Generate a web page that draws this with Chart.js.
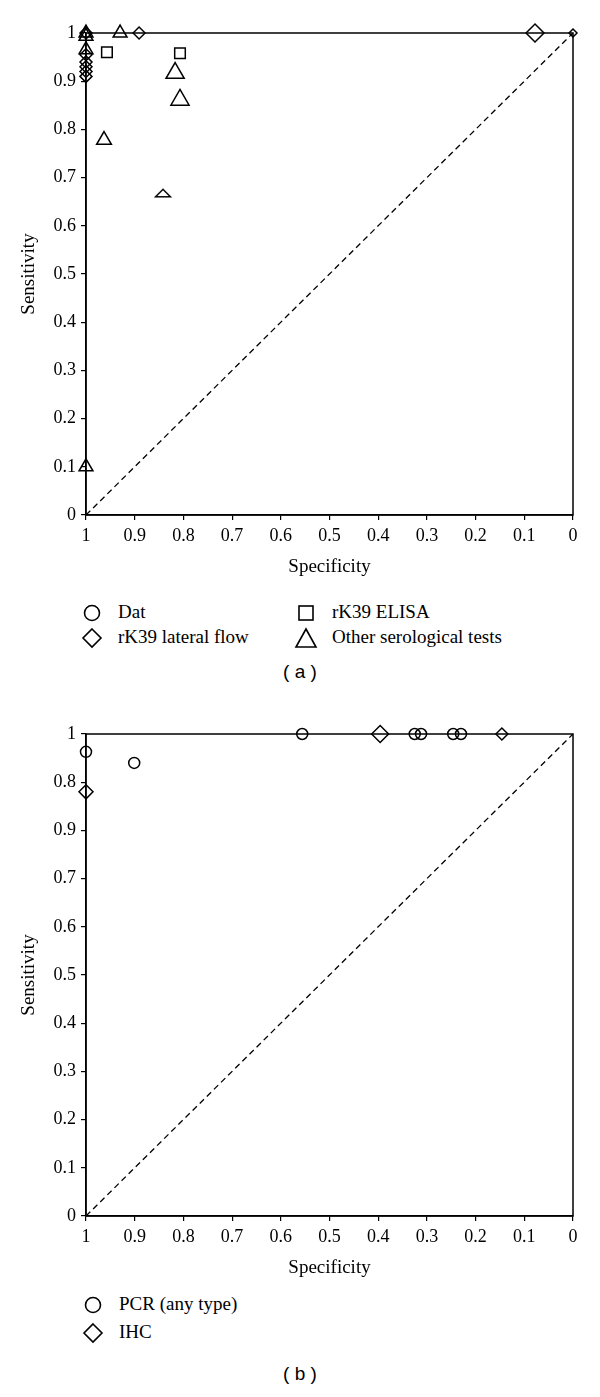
<!DOCTYPE html>
<html>
<head>
<meta charset="utf-8">
<script src="https://cdn.jsdelivr.net/npm/chart.js@4.4.1/dist/chart.umd.min.js"></script>
<style>
  html, body { margin: 0; padding: 0; background: #fff; }
  body { width: 600px; height: 1397px; position: relative; overflow: hidden; }
  canvas { position: absolute; left: 0; }
  .leg { position: absolute; font-family: "Liberation Serif", "DejaVu Serif", serif; font-size: 19px; color: #000; white-space: nowrap; line-height: 22px; }
  .cap { position: absolute; width: 600px; text-align: center; font-family: "Liberation Sans", Arial, sans-serif; font-size: 19px; color: #000; }
</style>
</head>
<body>
<canvas id="cA" width="600" height="580" style="top:0px"></canvas>
<canvas id="cB" width="600" height="580" style="top:701px"></canvas>

<div id="legA"></div>
<div id="legB"></div>
<div class="cap" style="top:661px">( a )</div>
<div class="cap" style="top:1363px">( b )</div>

<script>
// ---------- DATA ----------
// Axis ticks
const xTickValues = [1, 0.9, 0.8, 0.7, 0.6, 0.5, 0.4, 0.3, 0.2, 0.1, 0];
const xTickLabels = ["1", "0.9", "0.8", "0.7", "0.6", "0.5", "0.4", "0.3", "0.2", "0.1", "0"];
const yTickValues = [1, 0.9, 0.8, 0.7, 0.6, 0.5, 0.4, 0.3, 0.2, 0.1, 0];
const yTickLabelsA = ["1", "0.9", "0.8", "0.7", "0.6", "0.5", "0.4", "0.3", "0.2", "0.1", "0"];
const yTickLabelsB = ["1", "0.8", "0.9", "0.7", "0.6", "0.5", "0.4", "0.3", "0.2", "0.1", "0"];

// Panel (a)
const datSpec = [];
const datSens = [];
const elisaSpec = [0.957, 0.807];
const elisaSens = [0.960, 0.958];
const lateralSpec = [1, 1, 1, 1, 1, 1, 0.891, 0.078, 0];
const lateralSens = [1.0, 0.955, 0.94, 0.93, 0.92, 0.91, 1.0, 1.0, 1.0];
const otherSpec = [1, 1, 1, 0.93, 0.817, 0.807, 0.963, 0.842, 1];
const otherSens = [1.0, 0.993, 0.965, 1.0, 0.917, 0.861, 0.778, 0.668, 0.1];

// Panel (b)
const pcrSpec = [1, 0.901, 0.556, 0.325, 0.312, 0.246, 0.230];
const pcrSens = [0.963, 0.94, 1, 1, 1, 1, 1];
const ihcSpec = [1, 0.396, 0.146];
const ihcSens = [0.88, 1, 1];

// Reference diagonal
const diagSpec = [1, 0];
const diagSens = [0, 1];

// ---------- STYLES (marker sizes / shapes) ----------
const lateralSizes = [6, 6, 6, 6, 6, 6, 6, 9, 4];
const otherSizes = [8, 8, 8, 8, 10.5, 10.5, 8.5, 6, 8];
const otherFlat = [false, false, false, false, false, false, false, true, false];
const elisaSizes = [7.5, 7.5];
const pcrSizes = [5.5, 5.5, 5.5, 5.5, 5.5, 5.5, 5.5];
const ihcSizes = [7, 8.5, 6];

const serif = "'Liberation Serif', 'DejaVu Serif', serif";

// flattened triangle marker
const flatTri = (() => {
  const c = document.createElement('canvas');
  c.width = 18; c.height = 10;
  const g = c.getContext('2d');
  g.strokeStyle = '#000'; g.lineWidth = 1.5;
  g.beginPath(); g.moveTo(1.5, 8.8); g.lineTo(16.5, 8.8); g.lineTo(9, 1.2); g.closePath(); g.stroke();
  return c;
})();

function pts(xs, ys) { return xs.map((x, i) => ({ x: x, y: ys[i] })); }

const boxPlugin = {
  id: 'box',
  beforeDatasetsDraw(chart) {
    const { ctx, chartArea: a } = chart;
    ctx.save();
    ctx.strokeStyle = '#000';
    ctx.lineWidth = 1.5;
    ctx.strokeRect(a.left, a.top, a.right - a.left, a.bottom - a.top);
    ctx.restore();
  }
};

function scatterSet(label, xs, ys, style, sizes) {
  return {
    label: label,
    data: pts(xs, ys),
    pointStyle: style,
    pointRadius: sizes,
    pointHoverRadius: sizes,
    pointBorderWidth: 1.5,
    borderColor: '#000',
    backgroundColor: 'rgba(0,0,0,0)',
    pointBackgroundColor: 'rgba(0,0,0,0)',
    showLine: false,
    clip: false
  };
}

function diagSet() {
  return {
    label: 'diag',
    data: pts(diagSpec, diagSens),
    showLine: true,
    borderColor: '#000',
    borderWidth: 1.3,
    borderDash: [6, 4],
    pointRadius: 0,
    fill: false
  };
}

function makeChart(id, datasets, yLabels) {
  return new Chart(document.getElementById(id), {
    type: 'scatter',
    data: { datasets: datasets },
    plugins: [boxPlugin],
    options: {
      responsive: false,
      animation: false,
      devicePixelRatio: 1,
      layout: { padding: { top: 33, right: 27, left: 0, bottom: 0 } },
      plugins: { legend: { display: false }, tooltip: { enabled: false } },
      scales: {
        x: {
          type: 'linear', min: 0, max: 1, reverse: true,
          afterBuildTicks: s => { s.ticks = xTickValues.map(v => ({ value: v })); },
          afterFit: s => { s.height = 65; },
          ticks: {
            autoSkip: false, maxRotation: 0, padding: 5, color: '#000',
            font: { family: serif, size: 18 },
            callback: (v) => xTickLabels[xTickValues.findIndex(t => Math.abs(t - v) < 1e-9)]
          },
          grid: { drawOnChartArea: false, drawTicks: true, tickLength: 5, color: '#000', lineWidth: 1.2 },
          border: { display: true, color: '#000', width: 1.5 },
          title: { display: true, text: 'Specificity', color: '#000', font: { family: serif, size: 19 }, padding: { top: 0, bottom: 2 } }
        },
        y: {
          type: 'linear', min: 0, max: 1,
          afterBuildTicks: s => { s.ticks = yTickValues.map(v => ({ value: v })); },
          afterFit: s => { s.width = 86; },
          ticks: {
            autoSkip: false, padding: 5, color: '#000',
            font: { family: serif, size: 18 },
            callback: (v) => yLabels[yTickValues.findIndex(t => Math.abs(t - v) < 1e-9)]
          },
          grid: { drawOnChartArea: false, drawTicks: true, tickLength: 5, color: '#000', lineWidth: 1.2 },
          border: { display: true, color: '#000', width: 1.5 },
          title: { display: true, text: 'Sensitivity', color: '#000', font: { family: serif, size: 19 }, padding: { top: 18, bottom: 0 } }
        }
      }
    }
  });
}

const otherSet = scatterSet('Other serological tests', otherSpec, otherSens, 'triangle', otherSizes);
otherSet.pointStyle = (ctx) => otherFlat[ctx.dataIndex] ? flatTri : 'triangle';

makeChart('cA', [
  diagSet(),
  scatterSet('Dat', datSpec, datSens, 'circle', 6),
  scatterSet('rK39 ELISA', elisaSpec, elisaSens, 'rect', elisaSizes),
  scatterSet('rK39 lateral flow', lateralSpec, lateralSens, 'rectRot', lateralSizes),
  otherSet
], yTickLabelsA);

makeChart('cB', [
  diagSet(),
  scatterSet('PCR (any type)', pcrSpec, pcrSens, 'circle', pcrSizes),
  scatterSet('IHC', ihcSpec, ihcSens, 'rectRot', ihcSizes)
], yTickLabelsB);

// ---------- LEGENDS ----------
const symbols = {
  circle: '<svg width="20" height="20" viewBox="0 0 20 20"><circle cx="10" cy="10" r="7.5" fill="none" stroke="#000" stroke-width="1.6"/></svg>',
  rectRot: '<svg width="22" height="22" viewBox="0 0 22 22"><polygon points="11,2 20,11 11,20 2,11" fill="none" stroke="#000" stroke-width="1.6"/></svg>',
  rect: '<svg width="20" height="20" viewBox="0 0 20 20"><rect x="3" y="3" width="14" height="14" fill="none" stroke="#000" stroke-width="1.6"/></svg>',
  triangle: '<svg width="24" height="22" viewBox="0 0 24 22"><polygon points="12,2 22,20 2,20" fill="none" stroke="#000" stroke-width="1.6"/></svg>'
};
const legendA = [
  { label: 'Dat', sym: 'circle', x: 92, y: 613 },
  { label: 'rK39 ELISA', sym: 'rect', x: 306, y: 613 },
  { label: 'rK39 lateral flow', sym: 'rectRot', x: 92, y: 638 },
  { label: 'Other serological tests', sym: 'triangle', x: 306, y: 638 }
];
const legendB = [
  { label: 'PCR (any type)', sym: 'circle', x: 93, y: 1305 },
  { label: 'IHC', sym: 'rectRot', x: 93, y: 1333 }
];
function buildLegend(id, items) {
  const host = document.getElementById(id);
  items.forEach(it => {
    const d = document.createElement('div');
    d.className = 'leg';
    d.style.left = (it.x - 12) + 'px';
    d.style.top = (it.y - 11) + 'px';
    d.style.width = '280px';
    d.style.height = '22px';
    d.innerHTML = '<span style="position:absolute;left:0;top:0;width:24px;height:22px;display:flex;align-items:center;justify-content:center">' +
      symbols[it.sym] + '</span>' +
      '<span style="position:absolute;left:38px;top:-1px">' + it.label + '</span>';
    host.appendChild(d);
  });
}
buildLegend('legA', legendA);
buildLegend('legB', legendB);
</script>
</body>
</html>
